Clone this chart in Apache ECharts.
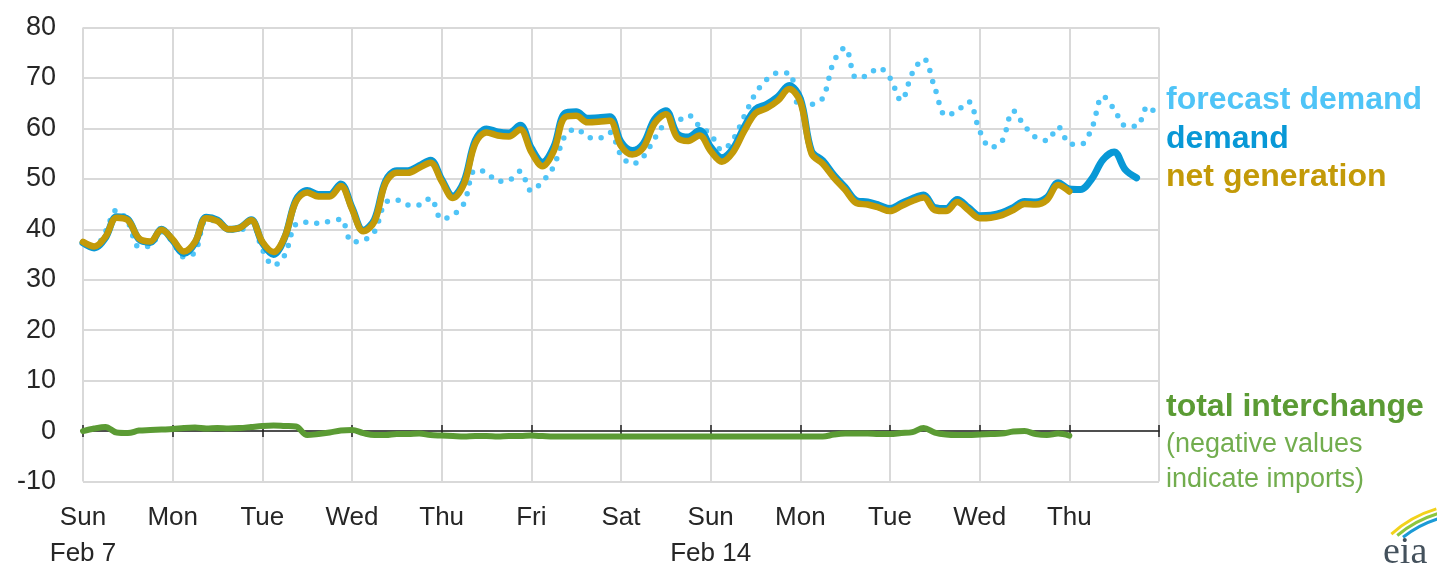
<!DOCTYPE html>
<html lang="en">
<head>
    <meta http-equiv="Content-Type" content="text/html; charset=utf-8"/>
    <title>Demand, forecast and net generation</title>
    <script src="https://cdn.jsdelivr.net/npm/echarts@6/dist/echarts.min.js"></script>
    <style>
        html, body { margin: 0; padding: 0; background: #fff; }
        #chart { width: 1437px; height: 567px; }
    </style>
</head>
<body>
<div id="chart"></div>
<script type="text/javascript">

  // one value every 3 hours, starting Sun Feb 7 00:00 (x unit = day)
  var STEP = 0.125;

  var dayLabels = ['Sun', 'Mon', 'Tue', 'Wed', 'Thu', 'Fri', 'Sat', 'Sun', 'Mon', 'Tue', 'Wed', 'Thu'];
  var dateLabels = {0: 'Feb 7', 7: 'Feb 14'};

  var forecastDemand = [
    37.5, 36.5, 39.5, 43.8, 41.5, 36.5, 36.7, 39.5,
    37.5, 34.5, 35.5, 41.8, 41.6, 40.0, 39.8, 41.5,
    36.0, 32.8, 34.9, 41.0, 41.4, 41.2, 41.6, 42.0,
    37.5, 37.8, 39.5, 45.3, 45.8, 44.8, 44.8, 46.2,
    42.0, 42.8, 45.2, 51.7, 51.3, 49.5, 49.7, 51.5,
    47.6, 49.5, 52.5, 58.5, 59.9, 58.3, 58.0, 59.2,
    54.7, 52.9, 54.4, 58.0, 61.0, 61.4, 62.6, 60.4,
    58.8, 55.7, 57.8, 62.4, 66.9, 69.7, 71.0, 71.0,
    63.8, 64.7, 66.0, 73.3, 76.0, 70.0, 70.5, 72.0,
    70.0, 65.5, 71.0, 73.8, 68.0, 62.5, 63.5, 65.3,
    59.5, 56.2, 57.5, 63.5, 60.5, 58.2, 57.6, 60.3,
    57.0, 56.8, 60.0, 66.4, 63.8, 60.5, 60.4, 64.4,
    62.0
  ];

  var demand = [
    37.3, 36.3, 38.3, 42.5, 42.0, 38.0, 37.4, 40.0,
    37.8, 35.2, 37.3, 42.4, 41.8, 40.0, 40.3, 41.9,
    37.3, 35.0, 38.4, 45.8, 47.7, 46.9, 46.9, 49.0,
    44.3, 39.8, 41.9, 49.6, 51.6, 51.6, 52.6, 53.7,
    49.9, 46.6, 49.5, 57.6, 59.9, 59.3, 59.1, 60.6,
    56.1, 53.3, 56.3, 63.0, 63.3, 62.0, 62.1, 62.3,
    57.3, 55.6, 57.0, 61.8, 63.5, 59.0, 58.3, 59.6,
    56.3, 54.2, 56.0, 60.3, 63.8, 64.8, 66.3, 68.5,
    65.9, 55.5, 53.6, 50.7, 48.3, 45.7, 45.4, 44.8,
    44.1, 45.1, 46.1, 46.8, 44.3, 44.1, 45.9, 44.3,
    42.7, 42.8, 43.3, 44.3, 45.5, 45.4, 46.3, 49.2,
    48.0, 47.9, 50.0, 53.8, 55.3, 51.8, 50.2
  ];

  var netGeneration = [
    37.5, 36.6, 38.5, 42.3, 41.8, 38.2, 37.6, 39.9,
    38.0, 35.6, 37.5, 42.2, 41.6, 40.0, 40.3, 41.8,
    37.5, 35.5, 38.5, 45.5, 47.3, 46.5, 46.5, 48.6,
    44.0, 39.6, 41.5, 49.2, 51.2, 51.2, 52.2, 53.2,
    49.5, 46.2, 49.0, 57.0, 59.2, 58.6, 58.4, 59.8,
    55.3, 52.5, 55.5, 62.2, 62.5, 61.2, 61.3, 61.5,
    56.5, 54.8, 56.2, 61.0, 62.8, 58.2, 57.5, 58.6,
    55.5, 53.4, 55.3, 59.5, 63.0, 64.0, 65.5, 67.8,
    65.3, 55.0, 53.0, 50.2, 47.8, 45.2, 44.9, 44.3,
    43.6, 44.6, 45.6, 46.3, 43.8, 43.6, 45.4, 43.8,
    42.2, 42.3, 42.8, 43.8, 45.0, 44.9, 45.8, 48.8,
    47.5
  ];

  var totalInterchange = [
    0.0, 0.5, 0.8, -0.3, -0.4, 0.1, 0.2, 0.3,
    0.4, 0.6, 0.7, 0.5, 0.6, 0.5, 0.6, 0.8,
    1.0, 1.1, 1.0, 0.9, -0.8, -0.6, -0.3, 0.1,
    0.2, -0.4, -0.8, -0.8, -0.6, -0.6, -0.5, -0.8,
    -0.9, -1.0, -1.1, -1.0, -1.0, -1.1, -1.0, -1.0,
    -0.9, -1.0, -1.1, -1.1, -1.1, -1.1, -1.1, -1.1,
    -1.1, -1.1, -1.1, -1.1, -1.1, -1.1, -1.1, -1.1,
    -1.1, -1.1, -1.1, -1.1, -1.1, -1.1, -1.1, -1.1,
    -1.1, -1.1, -1.1, -0.7, -0.5, -0.5, -0.5, -0.6,
    -0.6, -0.4, -0.2, 0.6, -0.3, -0.7, -0.8, -0.8,
    -0.7, -0.6, -0.5, -0.1, 0.0, -0.6, -0.8, -0.5,
    -0.9
  ];

  var COLORS = {
    forecast: '#4fc4f7',
    demand: '#0898d6',
    netgen: '#c39a08',
    interchange: '#5b9b34',
    note: '#72ad4e',
    grid: '#d9d9d9',
    text: '#262626'
  };

  function toPairs(values) {
    return values.map(function (v, i) {
      return [i * STEP, v];
    });
  }

  function zeroAxis(inside) {
    return {
      type: 'value',
      min: 0,
      max: 12,
      interval: 1,
      position: 'bottom',
      axisLine: {show: inside, onZero: true, onZeroAxisIndex: 0, lineStyle: {color: '#222', width: 1.5}},
      axisTick: {show: true, inside: inside, length: 6, lineStyle: {color: '#222', width: 1.5}},
      axisLabel: {show: false},
      splitLine: {show: false}
    };
  }

  var LEGEND_FONT = 'bold 32px "Liberation Sans", Arial, sans-serif';
  var NOTE_FONT = '27px "Liberation Sans", Arial, sans-serif';

  var chart = echarts.init(document.getElementById('chart'));

  var option = {
    animation: false,
    backgroundColor: '#fff',
    textStyle: {fontFamily: 'Liberation Sans, Arial, sans-serif'},
    grid: {left: 83, right: 278, top: 27.5, bottom: 85.5, containLabel: false, outerBoundsMode: 'none'},
    xAxis: [
      {
        type: 'value',
        min: 0,
        max: 12,
        interval: 1,
        position: 'bottom',
        axisLine: {show: false, onZero: false},
        axisTick: {show: false},
        splitLine: {show: true, lineStyle: {color: COLORS.grid, width: 2}},
        axisLabel: {
          margin: 18,
          fontSize: 26,
          lineHeight: 36,
          color: COLORS.text,
          showMinLabel: true,
          showMaxLabel: true,
          formatter: function (value) {
            var day = Math.round(value);
            var name = dayLabels[day] || '';
            if (dateLabels[day]) {
              return name + '\n' + dateLabels[day];
            }
            return name;
          }
        }
      },
      zeroAxis(true),
      zeroAxis(false)
    ],
    yAxis: {
      type: 'value',
      min: -10,
      max: 80,
      interval: 10,
      axisLine: {show: false},
      axisTick: {show: false},
      splitLine: {show: true, lineStyle: {color: COLORS.grid, width: 2}},
      axisLabel: {margin: 27, fontSize: 27, color: COLORS.text}
    },
    series: [
      {
        name: 'forecast demand',
        type: 'line',
        showSymbol: false,
        symbol: 'none',
        smooth: 0.35,
        data: toPairs(forecastDemand),
        lineStyle: {color: COLORS.forecast, width: 5.5, type: [0, 11], cap: 'round'},
        z: 2
      },
      {
        name: 'demand',
        type: 'line',
        showSymbol: false,
        symbol: 'none',
        smooth: 0.35,
        data: toPairs(demand),
        lineStyle: {color: COLORS.demand, width: 7, cap: 'round', join: 'round'},
        z: 3
      },
      {
        name: 'net generation',
        type: 'line',
        showSymbol: false,
        symbol: 'none',
        smooth: 0.35,
        data: toPairs(netGeneration),
        lineStyle: {color: COLORS.netgen, width: 6.5, cap: 'round', join: 'round'},
        z: 4
      },
      {
        name: 'total interchange',
        type: 'line',
        showSymbol: false,
        symbol: 'none',
        smooth: 0.35,
        data: toPairs(totalInterchange),
        lineStyle: {color: COLORS.interchange, width: 6, cap: 'round', join: 'round'},
        z: 5
      }
    ],
    graphic: [
      {type: 'text', left: 1166, top: 84, style: {text: 'forecast demand', fill: COLORS.forecast, font: LEGEND_FONT}},
      {type: 'text', left: 1166, top: 123, style: {text: 'demand', fill: COLORS.demand, font: LEGEND_FONT}},
      {type: 'text', left: 1166, top: 161, style: {text: 'net generation', fill: COLORS.netgen, font: LEGEND_FONT}},
      {type: 'text', left: 1166, top: 391, style: {text: 'total interchange', fill: COLORS.interchange, font: LEGEND_FONT}},
      {type: 'text', left: 1166, top: 431, style: {text: '(negative values', fill: COLORS.note, font: NOTE_FONT}},
      {type: 'text', left: 1166, top: 466, style: {text: 'indicate imports)', fill: COLORS.note, font: NOTE_FONT}},
      // eia logo
      {type: 'arc', shape: {cx: 1470, cy: 622, r: 118, startAngle: -2.3, endAngle: -1.86}, style: {stroke: '#f2d21b', lineWidth: 3, fill: null}},
      {type: 'arc', shape: {cx: 1470, cy: 622, r: 113, startAngle: -2.27, endAngle: -1.84}, style: {stroke: '#8cc63f', lineWidth: 3, fill: null}},
      {type: 'arc', shape: {cx: 1470, cy: 622, r: 108, startAngle: -2.24, endAngle: -1.82}, style: {stroke: '#1b9ad6', lineWidth: 3, fill: null}},
      {type: 'text', left: 1383, top: 534, style: {text: 'eia', fill: '#44515c', font: '38px "Liberation Serif", "DejaVu Serif", serif'}}
    ]
  };

  chart.setOption(option);
</script>
</body>
</html>
